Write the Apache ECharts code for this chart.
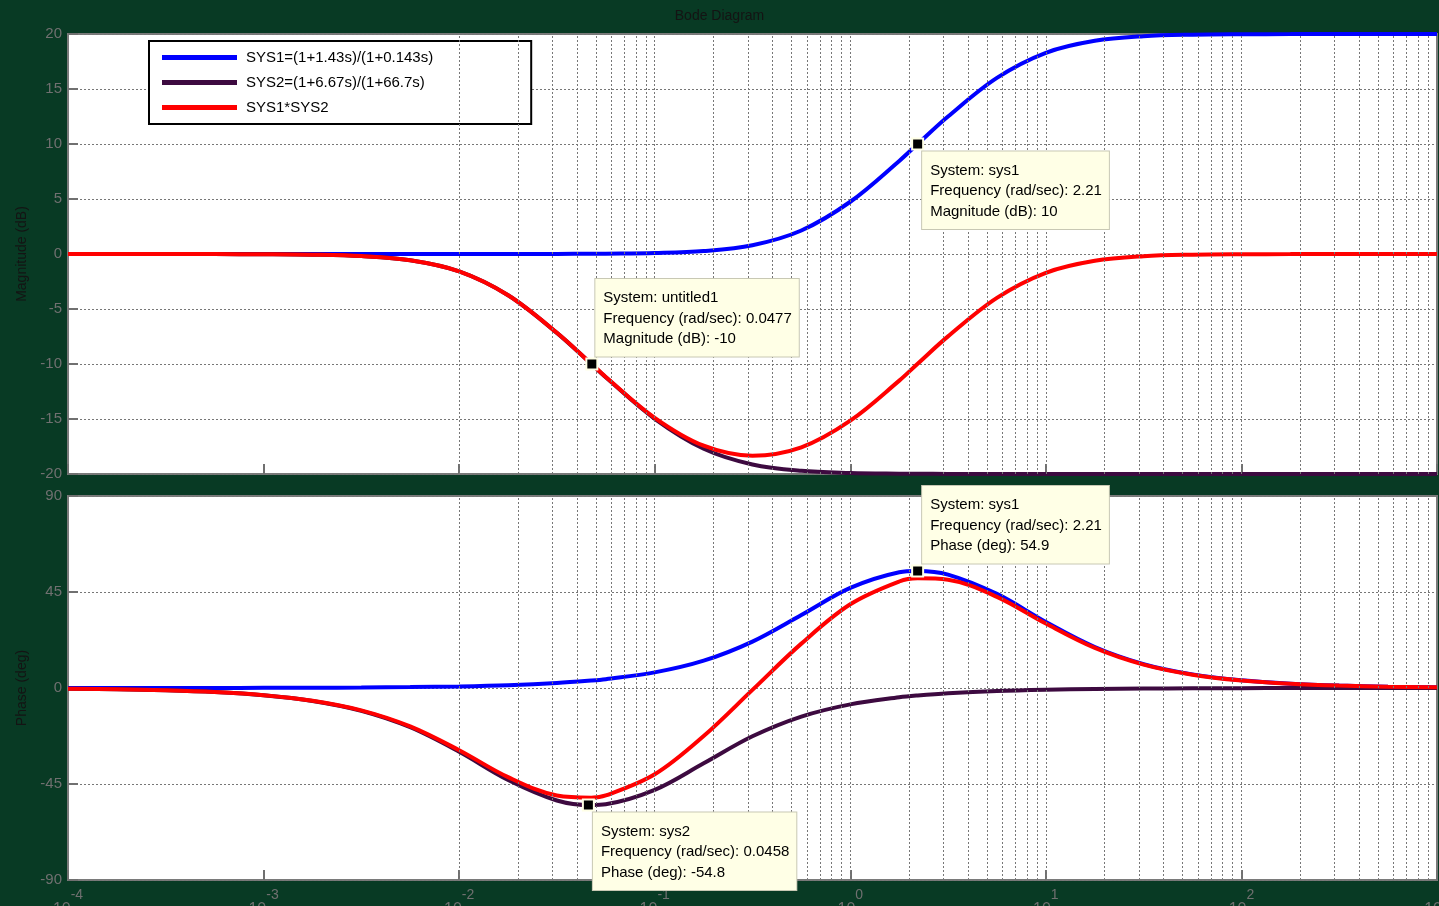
<!DOCTYPE html>
<html>
<head>
<meta charset="utf-8">
<title>Bode Diagram</title>
<script src="https://cdn.jsdelivr.net/npm/echarts@6/dist/echarts.min.js"></script>
<style>
  html, body { margin: 0; padding: 0; background: #083a24; }
  #main { width: 1439px; height: 906px; }
</style>
</head>
<body>
<div id="main"></div>
<script>
// frequencies (rad/sec), read along the log axis
const freq = [0.0001, 0.000178, 0.000316, 0.000562, 0.001, 0.00178, 0.00316, 0.00562,
  0.01, 0.0178, 0.0316, 0.0474, 0.0562, 0.1, 0.178, 0.316, 0.562, 1, 1.78, 2.21,
  3.16, 5.62, 10, 17.8, 31.6, 56.2, 100, 178, 316, 562, 1000];

// magnitude (dB)
const mag1 = [0, 0, 0, 0, 0, 0, 0, 0, 0, 0, 0.01, 0.02, 0.03, 0.09, 0.27, 0.8, 2.14,
  4.75, 8.46, 10, 12.5, 16.01, 18.29, 19.38, 19.8, 19.94, 19.98, 19.99, 20, 20, 20];
const mag2 = [0, 0, 0, -0.01, -0.02, -0.06, -0.19, -0.57, -1.58, -3.75, -7.17, -10,
  -11.21, -14.98, -17.7, -19.13, -19.71, -19.9, -19.97, -19.98, -19.99, -20, -20, -20,
  -20, -20, -20, -20, -20, -20, -20];
const mag12 = [0, 0, 0, -0.01, -0.02, -0.06, -0.19, -0.57, -1.58, -3.75, -7.16, -9.98,
  -11.18, -14.89, -17.43, -18.33, -17.57, -15.15, -11.51, -9.98, -7.49, -3.99, -1.71,
  -0.62, -0.2, -0.06, -0.02, -0.01, 0, 0, 0];

// phase (deg)
const ph1 = [0.01, 0.01, 0.02, 0.04, 0.07, 0.13, 0.23, 0.42, 0.74, 1.31, 2.33, 3.49,
  4.14, 7.32, 12.81, 21.76, 34.2, 46.91, 54.26, 54.88, 53.18, 44.11, 30.96, 19.22,
  11.21, 6.38, 3.6, 2.03, 1.14, 0.64, 0.36];
const ph2 = [-0.34, -0.61, -1.09, -1.93, -3.43, -6.08, -10.7, -18.41, -29.89, -43.11,
  -52.72, -54.88, -54.51, -47.77, -35.31, -22.65, -13.4, -7.67, -4.34, -3.49, -2.45,
  -1.37, -0.77, -0.43, -0.25, -0.14, -0.08, -0.04, -0.02, -0.01, -0.01];
const ph12 = [-0.33, -0.6, -1.07, -1.89, -3.36, -5.95, -10.47, -18, -29.15, -41.8,
  -50.39, -51.39, -50.37, -40.45, -22.5, -0.89, 20.8, 39.24, 49.92, 51.39, 50.73,
  42.74, 30.19, 18.79, 10.97, 6.24, 3.52, 1.99, 1.12, 0.63, 0.35];

const names = ["SYS1=(1+1.43s)/(1+0.143s)", "SYS2=(1+6.67s)/(1+66.7s)", "SYS1*SYS2"];
const colors = ["#0000ff", "#3d0a40", "#ff0000"];

const magTicks = [-20, 20, 5];
const phaseTicks = [-90, 90, 45];

// data tips: [freq, value, text]
const tipMag1 = [2.21, 10, "System: sys1\nFrequency (rad/sec): 2.21\nMagnitude (dB): 10"];
const tipMag12 = [0.0477, -10, "System: untitled1\nFrequency (rad/sec): 0.0477\nMagnitude (dB): -10"];
const tipPh1 = [2.21, 54.9, "System: sys1\nFrequency (rad/sec): 2.21\nPhase (deg): 54.9"];
const tipPh2 = [0.0458, -54.8, "System: sys2\nFrequency (rad/sec): 0.0458\nPhase (deg): -54.8"];

// grid lines at 1..9 x 10^k
const gridFreqs = [];
for (let k = -4; k < 3; k++) {
  for (let m = 1; m <= 9; m++) gridFreqs.push(m * Math.pow(10, k));
}

const pairs = (ys) => freq.map((f, i) => [f, ys[i]]);

const gridLine = { type: [2, 2], color: "#777", width: 1 };

const tipPoint = (tip, pos, vAlign) => ({
  symbol: "rect",
  symbolSize: 11,
  itemStyle: { color: "#000", borderColor: "#ffffe6", borderWidth: 2 },
  label: {
    show: true,
    position: pos,
    align: "left",
    verticalAlign: vAlign,
    formatter: tip[2],
    color: "#000",
    fontSize: 15,
    fontFamily: "Liberation Sans, Arial, sans-serif",
    lineHeight: 20.5,
    backgroundColor: "#ffffe6",
    borderColor: "#c8c8b4",
    borderWidth: 1,
    padding: [9, 7, 7, 8],
  },
  data: [{ coord: [tip[0], tip[1]] }],
});

const makeX = (idx, showLabel) => ({
  type: "log",
  logBase: 10,
  gridIndex: idx,
  min: 0.0001,
  max: 1000,
  splitNumber: 7,
  axisLine: { show: false, onZero: false },
  axisTick: { show: true, inside: true, length: 10, lineStyle: { color: "#707070", width: 2 } },
  splitLine: { show: false },
  axisLabel: {
    show: showLabel,
    margin: 8,
    formatter: function (v) {
      return "{b|10}{e|" + Math.round(Math.log10(v)) + "}";
    },
    rich: {
      b: { fontSize: 16, color: "#707070", verticalAlign: "bottom", lineHeight: 30 },
      e: { fontSize: 14, color: "#707070", verticalAlign: "top", lineHeight: 30 },
    },
  },
});

const makeY = (idx, ticks, name) => ({
  type: "value",
  gridIndex: idx,
  min: ticks[0],
  max: ticks[1],
  interval: ticks[2],
  name: name,
  nameLocation: "middle",
  nameGap: 39,
  nameTextStyle: { color: "#141414", fontSize: 14, fontFamily: "Liberation Sans, Arial, sans-serif" },
  axisLine: { show: false, onZero: false },
  axisTick: { show: true, inside: true, length: 10, lineStyle: { color: "#707070", width: 2 } },
  splitLine: { show: true, lineStyle: gridLine },
  axisLabel: { color: "#707070", fontSize: 15, margin: 6, fontFamily: "Liberation Sans, Arial, sans-serif" },
});

const curve = (name, color, ys, gi, extra) =>
  Object.assign(
    {
      name: name,
      type: "line",
      xAxisIndex: gi,
      yAxisIndex: gi,
      data: pairs(ys),
      showSymbol: false,
      smooth: 0.35,
      lineStyle: { color: color, width: 4 },
      itemStyle: { color: color },
      z: 3,
    },
    extra || {}
  );

const gridSeries = (gi) => ({
  type: "line",
  xAxisIndex: gi,
  yAxisIndex: gi,
  data: [[1, 0]],
  showSymbol: false,
  lineStyle: { opacity: 0 },
  silent: true,
  z: 1,
  markLine: {
    silent: true,
    symbol: "none",
    animation: false,
    label: { show: false },
    lineStyle: gridLine,
    data: gridFreqs.map((f) => ({ xAxis: f })),
  },
});

const chart = echarts.init(document.getElementById("main"));
chart.setOption({
  animation: false,
  backgroundColor: "#083a24",
  textStyle: { fontFamily: "Liberation Sans, Arial, sans-serif" },
  title: {
    text: "Bode Diagram",
    left: "center",
    top: 4,
    textStyle: { color: "#141414", fontSize: 14, fontWeight: "normal" },
  },
  legend: {
    data: names,
    orient: "vertical",
    left: 149,
    top: 41,
    backgroundColor: "#ffffff",
    borderColor: "#000",
    borderWidth: 2,
    padding: [8, 98, 8, 13],
    itemWidth: 75,
    itemHeight: 5,
    itemGap: 8,
    icon: "rect",
    textStyle: { color: "#000", fontSize: 15, lineHeight: 17, padding: [0, 0, 0, 4] },
  },
  grid: [
    { left: 68, right: 2, top: 34, height: 440, outerBoundsMode: "none", containLabel: false, show: true, backgroundColor: "#fff", borderColor: "#7a7a7a", borderWidth: 2 },
    { left: 68, right: 2, top: 496, height: 384, outerBoundsMode: "none", containLabel: false, show: true, backgroundColor: "#fff", borderColor: "#7a7a7a", borderWidth: 2 },
  ],
  xAxis: [makeX(0, false), makeX(1, true)],
  yAxis: [makeY(0, magTicks, "Magnitude (dB)"), makeY(1, phaseTicks, "Phase (deg)")],
  series: [
    gridSeries(0),
    gridSeries(1),
    curve(names[0], colors[0], mag1, 0, { markPoint: tipPoint(tipMag1, [11, 14], "top") }),
    curve(names[1], colors[1], mag2, 0),
    curve(names[2], colors[2], mag12, 0, { markPoint: tipPoint(tipMag12, [10, -1], "bottom") }),
    curve(names[0], colors[0], ph1, 1, { markPoint: tipPoint(tipPh1, [11, -1], "bottom") }),
    curve(names[1], colors[1], ph2, 1, { markPoint: tipPoint(tipPh2, [11, 14], "top") }),
    curve(names[2], colors[2], ph12, 1),
  ],
});
</script>
</body>
</html>
